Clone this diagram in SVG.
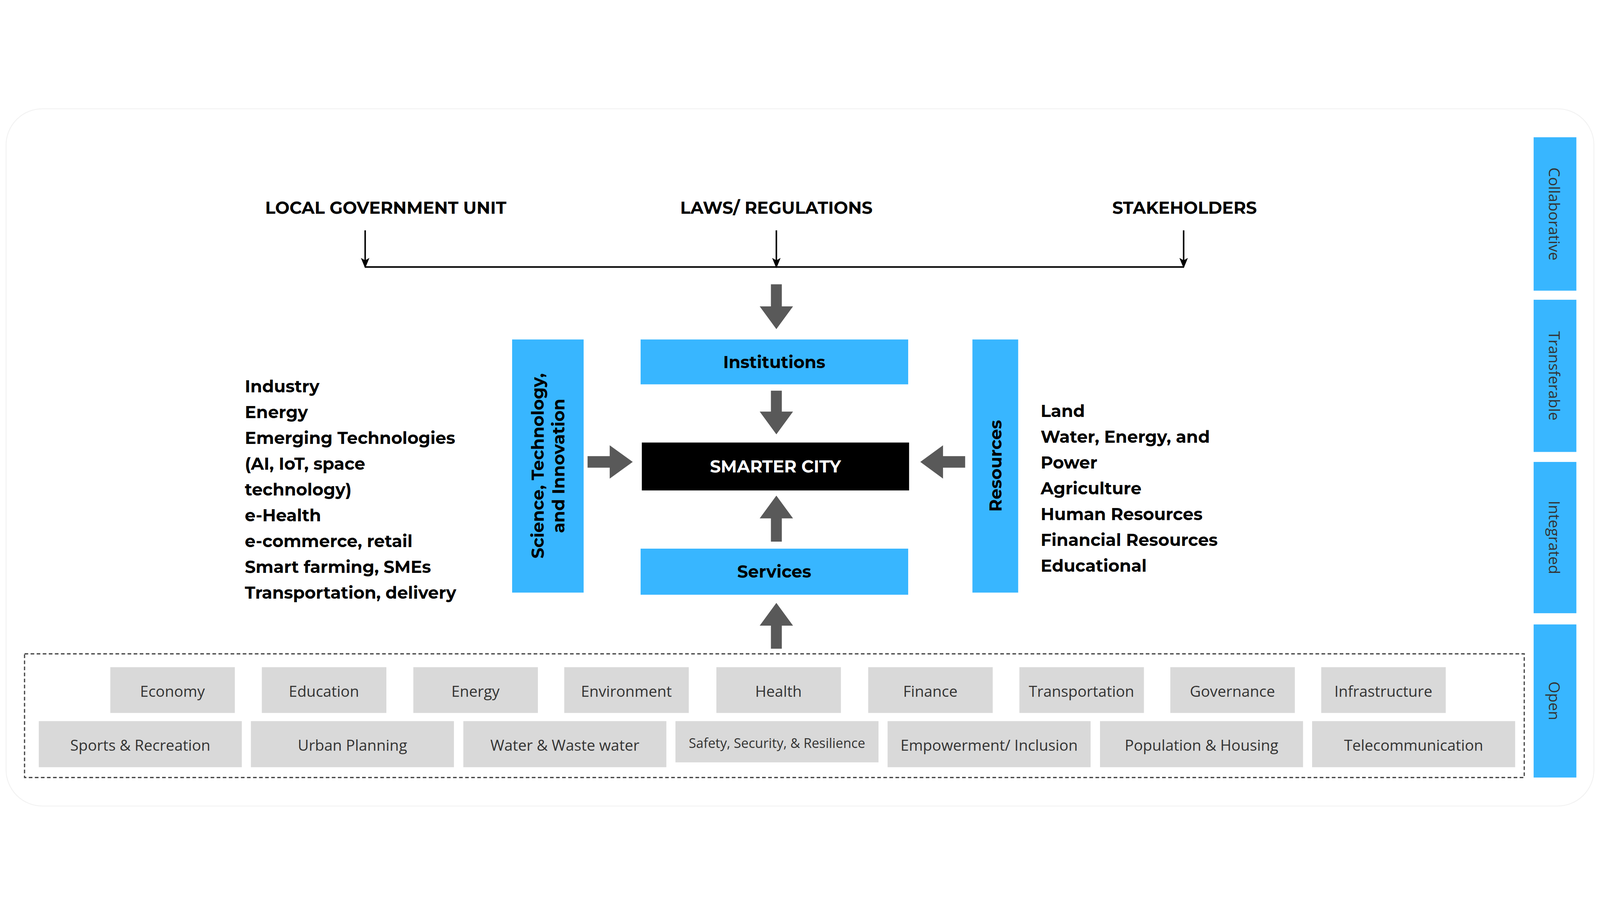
<svg xmlns="http://www.w3.org/2000/svg" width="5280" height="2344" viewBox="0 0 5280 2344" style="width:100vw;height:100vh;display:block" preserveAspectRatio="xMidYMid meet">
<style>
.lbl{font-family:"Montserrat","Open Sans","Liberation Sans",sans-serif;font-weight:700;font-size:56px;fill:#000}
.side{font-family:"Open Sans","Liberation Sans",sans-serif;font-size:50px;fill:#333}
.blue{fill:#38B6FF}
.grey{fill:#D9D9D9}
.gt{font-family:"Open Sans","Liberation Sans",sans-serif;font-size:50px;fill:#333;text-anchor:middle;dominant-baseline:central}
.arr{fill:#595959}
.thin{stroke:#000;stroke-width:5;fill:none}
</style>
<defs>
<marker id="ah2" markerWidth="36" markerHeight="36" refX="30" refY="18" orient="auto" markerUnits="userSpaceOnUse" viewBox="0 0 36 36"><path d="M0,4 L34,18 L0,32 L8,18 z" fill="#000"/></marker>
</defs>
<rect width="5280" height="2344" fill="#fff"/>
<rect x="20" y="20" width="5240" height="2300" rx="120" fill="none" stroke="#f2f2f2" stroke-width="3"/>
<g id="sidebar">
<rect class="blue" x="5061" y="114" width="141" height="506"/>
<rect class="blue" x="5061" y="650" width="141" height="502"/>
<rect class="blue" x="5061" y="1185" width="141" height="499"/>
<rect class="blue" x="5061" y="1721" width="141" height="505"/>
<text class="side" transform="translate(5131,367) rotate(90)" text-anchor="middle" dominant-baseline="central">Collaborative</text>
<text class="side" transform="translate(5131,901) rotate(90)" text-anchor="middle" dominant-baseline="central">Transferable</text>
<text class="side" transform="translate(5131,1434) rotate(90)" text-anchor="middle" dominant-baseline="central">Integrated</text>
<text class="side" transform="translate(5131,1973) rotate(90)" text-anchor="middle" dominant-baseline="central">Open</text>
</g>
<g id="top-labels">
<text class="lbl" x="1273" y="367" text-anchor="middle">LOCAL GOVERNMENT UNIT</text>
<text class="lbl" x="2562" y="367" text-anchor="middle">LAWS/ REGULATIONS</text>
<text class="lbl" x="3909" y="367" text-anchor="middle">STAKEHOLDERS</text>
</g>
<g id="connectors">
<line class="thin" x1="1205" y1="542" x2="3906" y2="542"/>
<line class="thin" x1="1205" y1="421" x2="1205" y2="542" marker-end="url(#ah2)"/>
<line class="thin" x1="2562" y1="421" x2="2562" y2="542" marker-end="url(#ah2)"/>
<line class="thin" x1="3906" y1="421" x2="3906" y2="542" marker-end="url(#ah2)"/>
<polygon class="arr" points="2544,599 2580,599 2580,672 2617,672 2562,747 2507,672 2544,672"/>
<polygon class="arr" points="2544,950 2580,950 2580,1019 2617,1019 2562,1094 2507,1019 2544,1019"/>
<polygon class="arr" points="2544,1448 2580,1448 2580,1371 2617,1371 2562,1296 2507,1371 2544,1371"/>
<polygon class="arr" points="2544,1801 2580,1801 2580,1725 2617,1725 2562,1650 2507,1725 2544,1725"/>
<polygon class="arr" points="1939,1166 2012,1166 2012,1130 2088,1185 2012,1240 2012,1204 1939,1204"/>
<polygon class="arr" points="3185,1166 3112,1166 3112,1130 3037,1185 3112,1240 3112,1204 3185,1204"/>
</g>
<g id="institutions"><rect class="blue" x="2114" y="781" width="883" height="148"/><text class="lbl" x="2555" y="855" text-anchor="middle" dominant-baseline="central">Institutions</text></g>
<g id="smarter-city"><rect fill="#000" x="2118" y="1121" width="882" height="158"/><text class="lbl" x="2559" y="1200" text-anchor="middle" dominant-baseline="central" style="fill:#fff">SMARTER CITY</text></g>
<g id="services"><rect class="blue" x="2114" y="1471" width="883" height="152"/><text class="lbl" x="2555" y="1547" text-anchor="middle" dominant-baseline="central">Services</text></g>
<g id="sti"><rect class="blue" x="1690" y="781" width="236" height="835"/>
<text class="lbl" transform="translate(1775,1198) rotate(-90)" text-anchor="middle" dominant-baseline="central">Science, Technology,</text>
<text class="lbl" transform="translate(1843,1198) rotate(-90)" text-anchor="middle" dominant-baseline="central">and Innovation</text></g>
<g id="resources"><rect class="blue" x="3209" y="781" width="151" height="835"/>
<text class="lbl" transform="translate(3285,1198) rotate(-90)" text-anchor="middle" dominant-baseline="central">Resources</text></g>
<g id="left-list">
<text class="lbl" x="808" y="956">Industry</text>
<text class="lbl" x="808" y="1041">Energy</text>
<text class="lbl" x="808" y="1126">Emerging Technologies</text>
<text class="lbl" x="808" y="1211">(AI, IoT, space</text>
<text class="lbl" x="808" y="1296">technology)</text>
<text class="lbl" x="808" y="1381">e-Health</text>
<text class="lbl" x="808" y="1466">e-commerce, retail</text>
<text class="lbl" x="808" y="1551">Smart farming, SMEs</text>
<text class="lbl" x="808" y="1636">Transportation, delivery</text>
</g>
<g id="right-list">
<text class="lbl" x="3434" y="1037">Land</text>
<text class="lbl" x="3434" y="1122">Water, Energy, and</text>
<text class="lbl" x="3434" y="1207">Power</text>
<text class="lbl" x="3434" y="1292">Agriculture</text>
<text class="lbl" x="3434" y="1377">Human Resources</text>
<text class="lbl" x="3434" y="1462">Financial Resources</text>
<text class="lbl" x="3434" y="1547">Educational</text>
</g>
<g id="open-domains">
<rect x="81" y="1818" width="4949" height="408" fill="none" stroke="#444" stroke-width="4" stroke-dasharray="12,8"/>
<g id="d-economy"><rect class="grey" x="364" y="1862" width="411" height="151"/><text class="gt" x="569" y="1940">Economy</text></g>
<g id="d-education"><rect class="grey" x="864" y="1862" width="411" height="151"/><text class="gt" x="1069" y="1940">Education</text></g>
<g id="d-energy"><rect class="grey" x="1364" y="1862" width="411" height="151"/><text class="gt" x="1569" y="1940">Energy</text></g>
<g id="d-environment"><rect class="grey" x="1862" y="1862" width="411" height="151"/><text class="gt" x="2067" y="1940">Environment</text></g>
<g id="d-health"><rect class="grey" x="2364" y="1862" width="411" height="151"/><text class="gt" x="2569" y="1940">Health</text></g>
<g id="d-finance"><rect class="grey" x="2865" y="1862" width="411" height="151"/><text class="gt" x="3070" y="1940">Finance</text></g>
<g id="d-transportation"><rect class="grey" x="3364" y="1862" width="411" height="151"/><text class="gt" x="3569" y="1940">Transportation</text></g>
<g id="d-governance"><rect class="grey" x="3862" y="1862" width="411" height="151"/><text class="gt" x="4067" y="1940">Governance</text></g>
<g id="d-infrastructure"><rect class="grey" x="4360" y="1862" width="411" height="151"/><text class="gt" x="4565" y="1940">Infrastructure</text></g>
<g id="d-sports"><rect class="grey" x="128" y="2040" width="670" height="152"/><text class="gt" x="463" y="2118">Sports &amp; Recreation</text></g>
<g id="d-urban"><rect class="grey" x="828" y="2040" width="670" height="152"/><text class="gt" x="1163" y="2118">Urban Planning</text></g>
<g id="d-water"><rect class="grey" x="1529" y="2040" width="670" height="152"/><text class="gt" x="1864" y="2118">Water &amp; Waste water</text></g>
<g id="d-safety"><rect class="grey" x="2229" y="2040" width="670" height="136"/><text class="gt" x="2564" y="2112" style="font-size:44px">Safety, Security, &amp; Resilience</text></g>
<g id="d-empowerment"><rect class="grey" x="2929" y="2040" width="670" height="152"/><text class="gt" x="3264" y="2118">Empowerment/ Inclusion</text></g>
<g id="d-population"><rect class="grey" x="3630" y="2040" width="670" height="152"/><text class="gt" x="3965" y="2118">Population &amp; Housing</text></g>
<g id="d-telecom"><rect class="grey" x="4330" y="2040" width="670" height="152"/><text class="gt" x="4665" y="2118">Telecommunication</text></g>
</g>
</svg>
